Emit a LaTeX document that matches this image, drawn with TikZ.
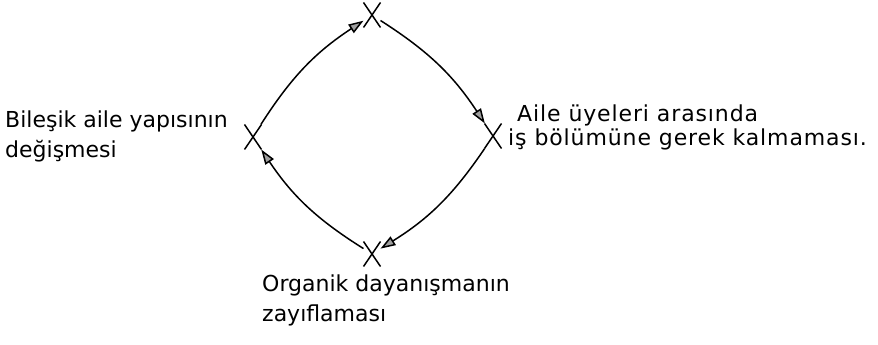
\documentclass[tikz,border=0pt]{standalone}
\usepackage{fontspec}
\newfontfamily\labelfont{DejaVu Sans}
\newfontfamily\widefont[LetterSpace=4]{DejaVu Sans}
\usepackage{tikz}
\usetikzlibrary{arrows.meta, shapes.misc}

\begin{document}
\begin{tikzpicture}[x=1pt, y=1pt,
    every node/.style={font=\labelfont\fontsize{22}{30}\selectfont, inner sep=0pt},
    crossmark/.style={draw, cross out, line width=1.5pt, minimum width=9pt,
      minimum height=17pt, outer sep=4pt},
    cycarrow/.style={line width=1.5pt,
      -{Triangle[length=15pt, width=10pt, fill=gray!75]}}]
  \useasboundingbox (0,0) rectangle (878,345);
  % The four stages of the cycle (X marks)
  \node[crossmark] (top) at (372,330) {};
  \node[crossmark] (right) at (493,209) {};
  \node[crossmark] (bottom) at (372,91) {};
  \node[crossmark] (left) at (253,208) {};
  % Labels beside the marks
  \node[anchor=north west, align=left] (lefttext) at (5,234)
    {Bileşik aile yapısının\\değişmesi};
  \node[anchor=north west, align=left,
    font=\widefont\fontsize{22}{24}\selectfont] (righttext) at (508,240)
    {\hspace{9pt}Aile üyeleri arasında\\iş bölümüne gerek kalmaması.};
  \node[anchor=north west, align=left] (bottomtext) at (262,70)
    {Organik dayanışmanın\\zayıflaması};
  % Clockwise curved arrows between the stages
  \draw[cycarrow] (top) to[bend left=12] (right);
  \draw[cycarrow] (right) to[bend left=12] (bottom);
  \draw[cycarrow] (bottom) to[bend left=12] (left);
  \draw[cycarrow] (left) to[bend left=12] (top);
\end{tikzpicture}
\end{document}
